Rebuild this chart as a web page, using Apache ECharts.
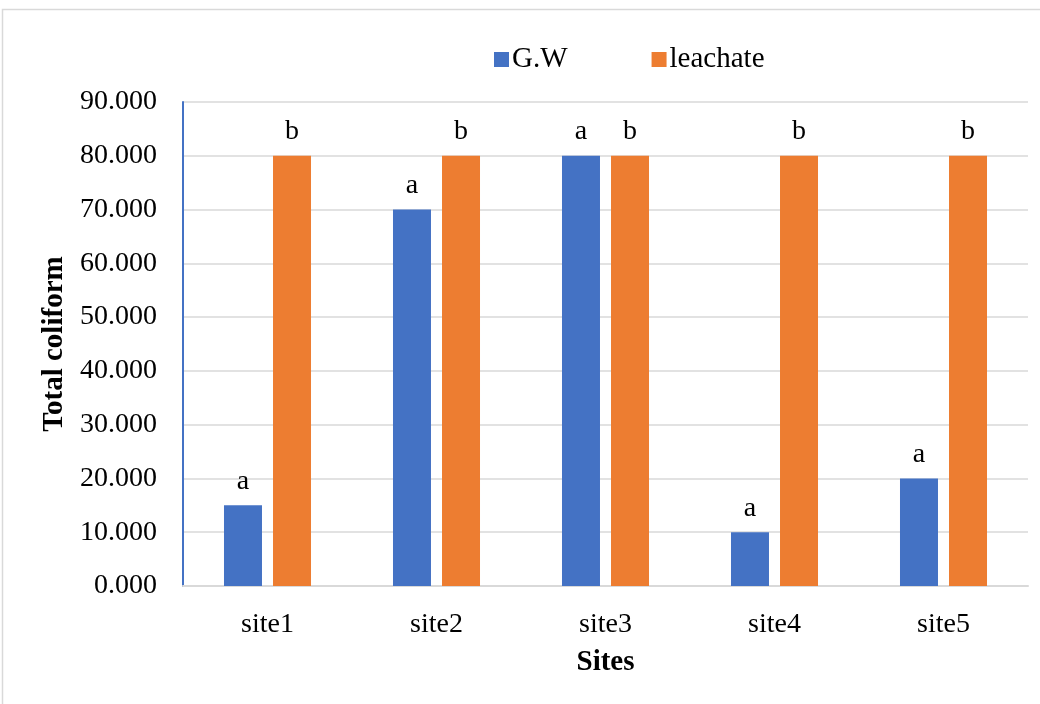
<!DOCTYPE html>
<html>
<head>
<meta charset="utf-8">
<script src="https://cdn.jsdelivr.net/npm/echarts@6/dist/echarts.min.js"></script>
<style>
  html, body { margin: 0; padding: 0; background: #fff; }
  #chart { width: 1040px; height: 704px; }
</style>
</head>
<body>
<div id="chart"></div>
<script>
// Total coliform per site: groundwater vs leachate
const sites = ['site1', 'site2', 'site3', 'site4', 'site5'];
const gwValues = [15, 70, 80, 10, 20];
const leachateValues = [80, 80, 80, 80, 80];
const gwLetters = ['a', 'a', 'a', 'a', 'a'];
const leachateLetters = ['b', 'b', 'b', 'b', 'b'];
const seriesNames = ['G.W', 'leachate'];

const FONT = '"Liberation Serif", "Times New Roman", serif';

const chart = echarts.init(document.getElementById('chart'));

function letterLabel(letters) {
  return {
    show: true,
    position: 'top',
    distance: 10,
    color: '#000',
    fontFamily: FONT,
    fontSize: 28,
    formatter: p => letters[p.dataIndex]
  };
}

chart.setOption({
  animation: false,
  backgroundColor: '#fff',
  graphic: [{
    type: 'rect',
    shape: { x: 2.5, y: 9.5, width: 1100, height: 800 },
    style: { fill: 'none', stroke: '#d9d9d9', lineWidth: 1.5 },
    silent: true
  }],
  legend: {
    top: 40,
    left: 489,
    itemWidth: 15,
    itemHeight: 15,
    itemGap: 84,
    icon: 'rect',
    textStyle: { fontFamily: FONT, fontSize: 29, color: '#000', padding: [0, 0, 0, -2] },
    data: seriesNames
  },
  grid: { left: 183, right: 12, top: 102, bottom: 118, containLabel: false },
  xAxis: {
    type: 'category',
    data: sites,
    name: 'Sites',
    nameLocation: 'middle',
    nameGap: 62,
    nameTextStyle: { fontFamily: FONT, fontSize: 29, fontWeight: 'bold', color: '#000' },
    axisLine: { lineStyle: { color: '#d9d9d9', width: 2 } },
    axisTick: { show: false },
    axisLabel: { fontFamily: FONT, fontSize: 28, color: '#000', margin: 25 }
  },
  yAxis: {
    type: 'value',
    min: 0,
    max: 90,
    interval: 10,
    name: 'Total coliform',
    nameLocation: 'middle',
    nameGap: 114,
    nameTextStyle: { fontFamily: FONT, fontSize: 29, fontWeight: 'bold', color: '#000' },
    axisLine: { show: true, lineStyle: { color: '#4472c4', width: 2 } },
    axisTick: { show: false },
    axisLabel: {
      fontFamily: FONT, fontSize: 28, color: '#000', margin: 26,
      formatter: v => v.toFixed(3)
    },
    splitLine: { lineStyle: { color: '#d9d9d9', width: 1.5 } }
  },
  series: [
    {
      name: seriesNames[0],
      type: 'bar',
      data: gwValues,
      barWidth: 38,
      barGap: '29%',
      itemStyle: { color: '#4472c4' },
      label: letterLabel(gwLetters)
    },
    {
      name: seriesNames[1],
      type: 'bar',
      data: leachateValues,
      barWidth: 38,
      itemStyle: { color: '#ed7d31' },
      label: letterLabel(leachateLetters)
    }
  ]
});
</script>
</body>
</html>
